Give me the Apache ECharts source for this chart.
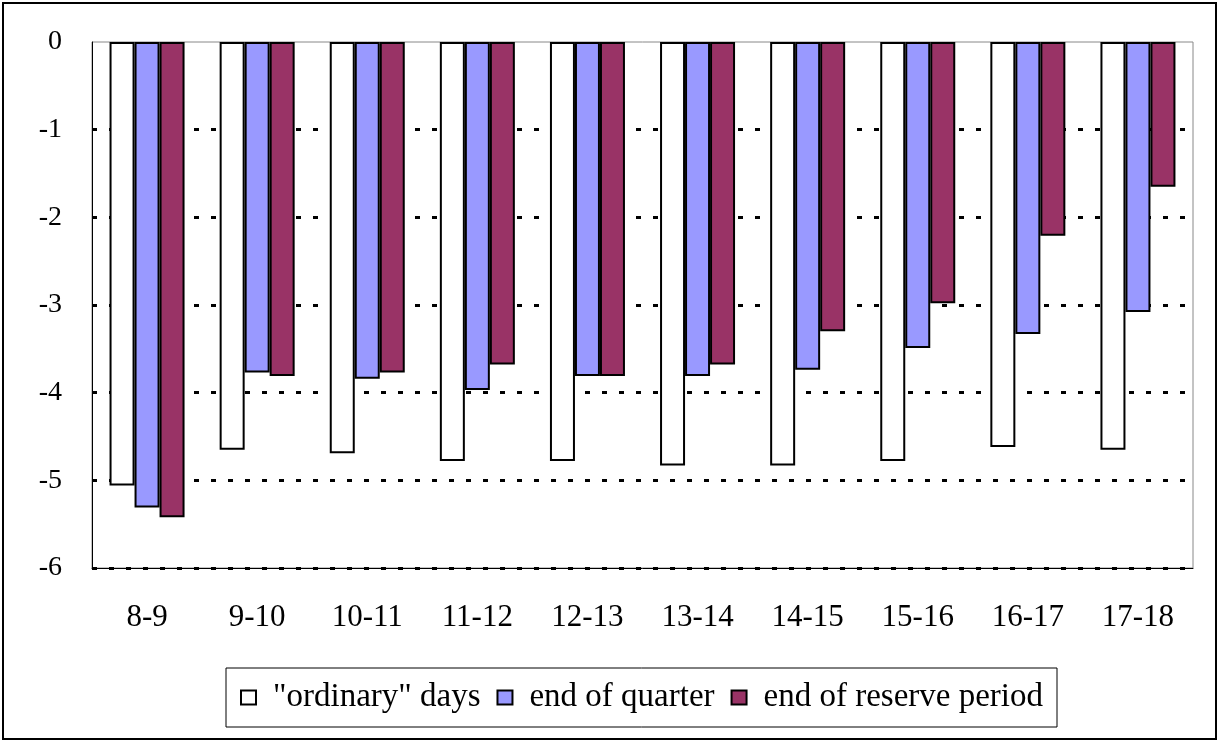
<!DOCTYPE html>
<html><head><meta charset="utf-8">
<script src="https://cdn.jsdelivr.net/npm/echarts@6/dist/echarts.min.js"></script>
<style>html,body{margin:0;padding:0;background:#fff}#c{width:1219px;height:742px}</style>
</head><body><div id="c"></div>
<script>
const categories = ['8-9','9-10','10-11','11-12','12-13','13-14','14-15','15-16','16-17','17-18'];
const ordinaryDays = [-5.06,-4.65,-4.69,-4.78,-4.78,-4.83,-4.83,-4.78,-4.62,-4.65];
const endOfQuarter = [-5.31,-3.77,-3.84,-3.97,-3.81,-3.81,-3.74,-3.49,-3.33,-3.08];
const endOfReserve = [-5.42,-3.81,-3.77,-3.68,-3.81,-3.68,-3.30,-2.98,-2.21,-1.65];
const seriesNames = ['"ordinary" days','end of quarter','end of reserve period'];
const yTicks = [-6,-5,-4,-3,-2,-1,0];

const font = 'Liberation Serif';
const chart = echarts.init(document.getElementById('c'));
function bar(name, data, color){
  return {name, type:'bar', data, barWidth:25, barGap:'0%',
    itemStyle:{color, borderColor:'#000', borderWidth:2}};
}
chart.setOption({
  animation:false,
  backgroundColor:'#fff',
  graphic:[{type:'rect', shape:{x:3,y:3,width:1213,height:736}, style:{fill:'none',stroke:'#000',lineWidth:2}, z:-1}],
  grid:{left:92,right:26,top:42,bottom:174,show:true,borderColor:'#888',borderWidth:1},
  legend:{left:226, top:668, itemWidth:15, itemHeight:14, itemGap:16,
    borderColor:'#000', borderWidth:1, padding:[13,14,13,14],
    icon:'rect',
    textStyle:{fontFamily:font, fontSize:33, color:'#000', padding:[0,0,0,12]},
    data:seriesNames},
  xAxis:{type:'category', data:categories,
    axisLine:{onZero:false, lineStyle:{color:'#000',width:1}},
    axisTick:{show:false},
    axisLabel:{fontFamily:font, fontSize:31, color:'#000', margin:34}},
  yAxis:{type:'value', min:-6, max:0, interval:1,
    axisLine:{show:true, lineStyle:{color:'#000',width:1}},
    axisTick:{show:false},
    axisLabel:{fontFamily:font, fontSize:28, color:'#000', margin:30,
      formatter:v=>yTicks.includes(v)?String(v):''},
    splitLine:{show:true, showMaxLine:false, lineStyle:{color:'#000', width:3, type:[5,12]}}},
  series:[
    bar(seriesNames[0], ordinaryDays, '#ffffff'),
    bar(seriesNames[1], endOfQuarter, '#9999ff'),
    bar(seriesNames[2], endOfReserve, '#993366')
  ]
});
</script></body></html>
